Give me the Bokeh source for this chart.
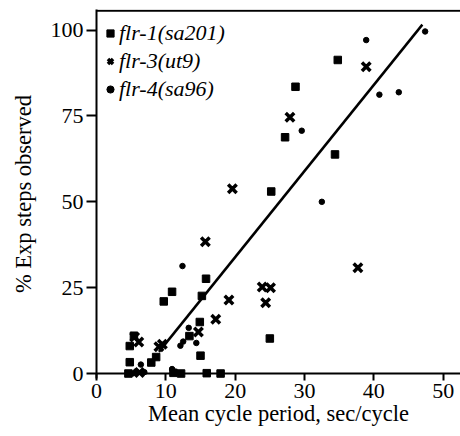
from bokeh.plotting import figure
from bokeh.models import Span, Legend, LegendItem
from bokeh.embed import file_html
from bokeh.resources import INLINE

# flr-1(sa201) - squares
flr1_x = [34.8, 28.7, 27.2, 34.4, 25.2, 15.8, 10.9, 9.7, 15.2, 14.9, 13.4, 15.0, 25.0,
          4.8, 5.4, 4.8, 7.9, 8.6, 4.6, 11.1, 12.2, 15.9, 17.9]
flr1_y = [91.3, 83.5, 68.8, 63.8, 53.0, 27.6, 23.8, 21.0, 22.6, 15.0, 10.9, 5.2, 10.2,
          8.0, 11.0, 3.3, 3.2, 4.8, 0.0, 0.2, 0.0, 0.1, 0.0]

# flr-3(ut9) - crosses
flr3_x = [38.9, 27.9, 19.6, 15.7, 37.7, 23.9, 25.1, 24.4, 19.1, 17.2, 14.7, 9.0, 9.5,
          5.5, 6.1, 6.2]
flr3_y = [89.3, 74.6, 53.8, 38.4, 30.8, 25.2, 25.0, 20.6, 21.4, 15.8, 12.1, 7.8, 8.5,
          10.6, 9.2, 0.3]

# flr-4(sa96) - dots
flr4_x = [47.4, 38.9, 40.8, 43.6, 29.6, 32.5, 12.4, 13.3, 14.4, 12.5, 12.1, 6.4,
          5.2, 5.7, 6.9, 10.9, 11.3]
flr4_y = [99.6, 97.1, 81.2, 81.9, 70.7, 50.0, 31.3, 13.3, 8.9, 9.3, 8.1, 2.6,
          0.0, 0.6, 0.4, 1.3, 0.5]

# regression line endpoints
fit_x = [9.0, 47.0]
fit_y = [6.3, 101.6]

x_ticks = [0, 10, 20, 30, 40, 50]
y_ticks = [0, 25, 50, 75, 100]

SERIF = "Liberation Serif"

p = figure(width=460, height=436, x_range=(0, 52.5), y_range=(-1.45, 106.0),
           output_backend="svg", toolbar_location=None,
           min_border_left=96, min_border_right=0, min_border_top=9, min_border_bottom=58)
p.grid.visible = False
p.outline_line_color = None

r1 = p.scatter(flr1_x, flr1_y, marker="square", size=7.5, color="black")
r3 = p.scatter(flr3_x, flr3_y, marker="x", size=12, line_width=3.5, color="black")
r4 = p.scatter(flr4_x, flr4_y, marker="circle", size=5.5, color="black")
p.line(fit_x, fit_y, line_width=2.5, color="black")

p.add_layout(Span(location=0, dimension="width", line_color="black", line_width=2))
p.add_layout(Span(location=105.6, dimension="width", line_color="black", line_width=2))

legend = Legend(items=[LegendItem(label="flr-1(sa201)", renderers=[r1]),
                       LegendItem(label="flr-3(ut9)", renderers=[r3]),
                       LegendItem(label="flr-4(sa96)", renderers=[r4])],
                location=(5, 276), padding=0, margin=0, spacing=2,
                glyph_width=18, glyph_height=18, label_height=22, label_standoff=-3,
                label_text_font=SERIF, label_text_font_style="italic",
                label_text_font_size="22px", label_text_color="black",
                border_line_color=None, background_fill_alpha=0)
p.add_layout(legend)

p.xaxis.ticker = x_ticks
p.yaxis.ticker = y_ticks
p.xaxis.axis_line_color = None
p.xaxis.major_tick_in = 5
p.xaxis.major_tick_out = 2
p.yaxis.major_tick_in = 0
p.yaxis.major_tick_out = 10
p.yaxis.axis_line_width = 2
p.yaxis.axis_line_color = "black"
for ax in (p.xaxis, p.yaxis):
    ax.minor_tick_line_color = None
    ax.major_tick_line_width = 2
    ax.major_tick_line_color = "black"
    ax.major_label_text_font = SERIF
    ax.major_label_text_font_size = "22px"
    ax.major_label_text_color = "black"
    ax.axis_label_text_font = SERIF
    ax.axis_label_text_font_size = "22.5px"
    ax.axis_label_text_font_style = "normal"
    ax.axis_label_text_color = "black"
p.xaxis.major_label_standoff = 3
p.yaxis.major_label_standoff = 3
p.xaxis.axis_label = "Mean cycle period, sec/cycle"
p.yaxis.axis_label = "% Exp steps observed"
p.xaxis.axis_label_standoff = 0
p.yaxis.axis_label_standoff = 12

open("out.html", "w").write(file_html(p, INLINE))
